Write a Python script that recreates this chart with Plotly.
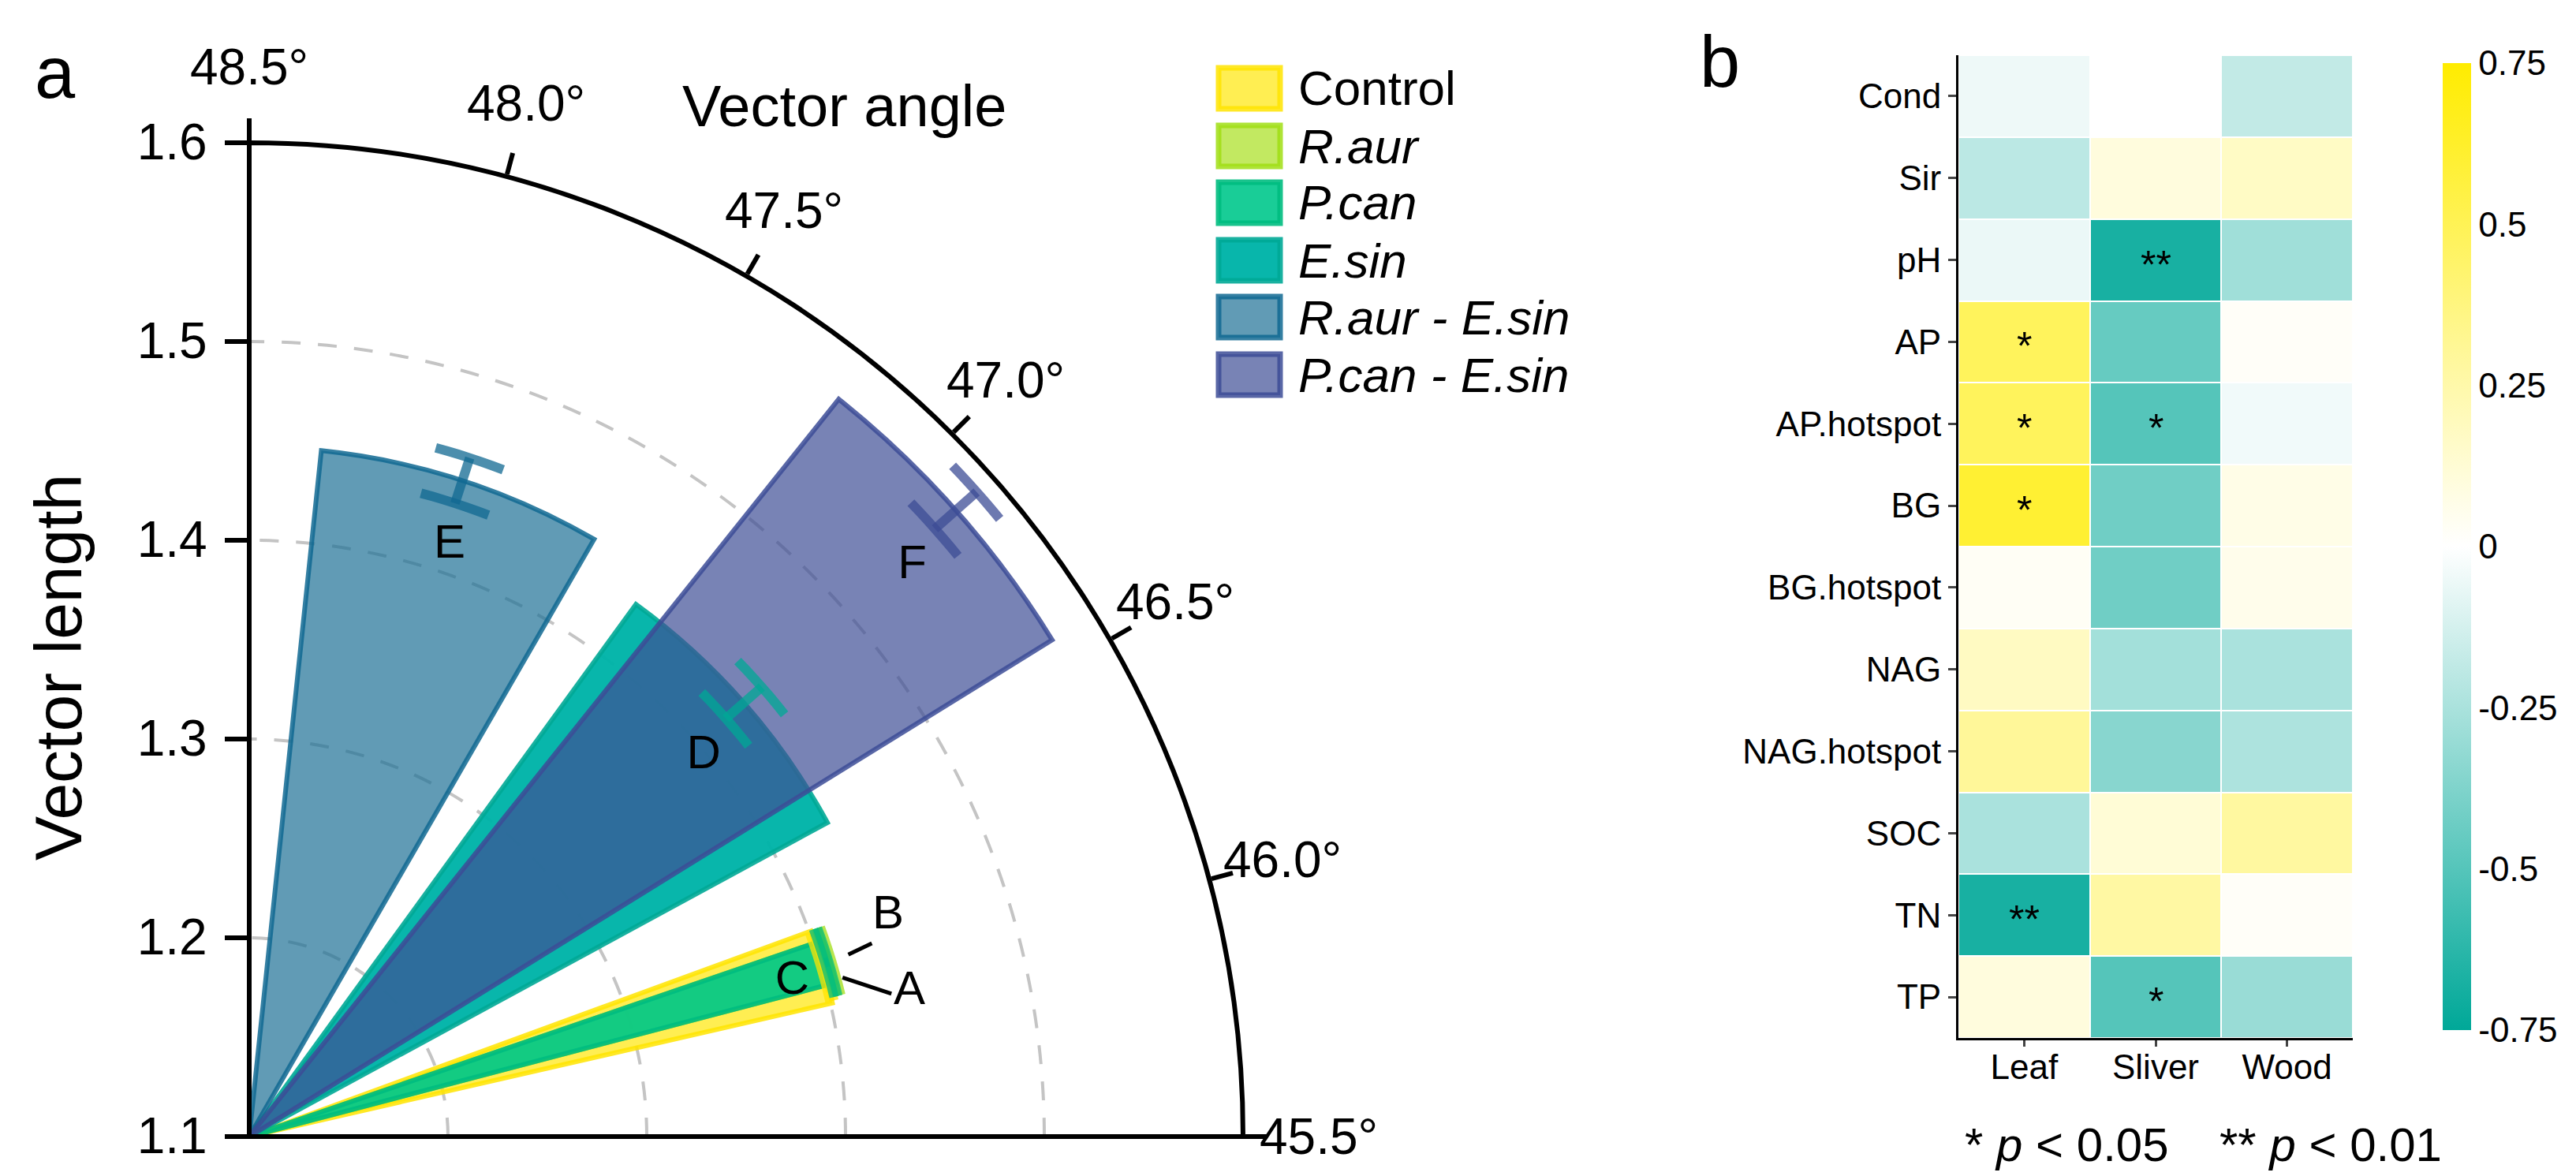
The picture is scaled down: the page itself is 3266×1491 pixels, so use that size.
import numpy as np
import plotly.graph_objects as go

# ---------------- data: panel a ----------------
groups = ["Control", "R.aur", "P.can", "E.sin", "R.aur - E.sin", "P.can - E.sin"]
letters = ["A", "B", "C", "D", "E", "F"]
vec_angle = [46.05, 46.06, 46.06, 46.875, 47.90, 46.885]      # degrees (centre)
angle_half = [0.12, 0.07, 0.07, 0.425, 0.40, 0.327]           # half angular width
vec_length = [1.401, 1.405, 1.4035, 1.431, 1.447, 1.575]
length_err = [0.001, 0.001, 0.001, 0.012, 0.012, 0.014]
fill_colors = ["rgba(255,230,0,0.68)", "rgba(168,224,30,0.70)", "rgba(0,200,140,0.90)",
               "rgba(0,180,168,0.97)", "rgba(30,112,150,0.70)", "rgba(62,78,150,0.70)"]
line_colors = ["rgba(255,228,0,0.85)", "rgba(160,222,20,0.85)", "rgba(0,188,128,0.9)",
               "rgba(0,168,150,0.9)", "rgba(16,104,146,0.85)", "rgba(60,76,150,0.85)"]

angle_ticks = [45.5, 46.0, 46.5, 47.0, 47.5, 48.0, 48.5]
length_ticks = [1.1, 1.2, 1.3, 1.4, 1.5, 1.6]

# letter label positions (angle, length)
label_angle = [45.911, 46.134, 46.03, 46.83, 47.876, 46.857]
label_length = [1.440, 1.440, 1.384, 1.398, 1.414, 1.540]
# leader lines for A and B: (angle0, len0, angle1, len1)
leader_A = [46.00, 1.409, 45.918, 1.431]
leader_B = [46.063, 1.415, 46.075, 1.428]

# ---------------- data: panel b ----------------
heat_rows = ["Cond", "Sir", "pH", "AP", "AP.hotspot", "BG", "BG.hotspot", "NAG",
             "NAG.hotspot", "SOC", "TN", "TP"]
heat_cols = ["Leaf", "Sliver", "Wood"]
heat_vals = [
    [-0.05, 0.00, -0.18],
    [-0.20, 0.10, 0.17],
    [-0.06, -0.68, -0.28],
    [0.48, -0.45, 0.02],
    [0.48, -0.50, -0.04],
    [0.60, -0.42, 0.07],
    [0.03, -0.42, 0.06],
    [0.18, -0.27, -0.25],
    [0.30, -0.35, -0.24],
    [-0.25, 0.12, 0.28],
    [-0.68, 0.27, 0.02],
    [0.10, -0.50, -0.30],
]
heat_sig = [
    ["", "", ""],
    ["", "", ""],
    ["", "**", ""],
    ["*", "", ""],
    ["*", "*", ""],
    ["*", "", ""],
    ["", "", ""],
    ["", "", ""],
    ["", "", ""],
    ["", "", ""],
    ["**", "", ""],
    ["", "*", ""],
]
cbar_ticks = [0.75, 0.5, 0.25, 0, -0.25, -0.5, -0.75]
cbar_text = ["0.75", "0.5", "0.25", "0", "-0.25", "-0.5", "-0.75"]

# ---------------- layout constants ----------------
W, H = 3266, 1491
FONT = "Liberation Sans"
ANG_MIN, ANG_MAX = angle_ticks[0], angle_ticks[-1]
R_MIN, R_MAX = length_ticks[0], length_ticks[-1]
SPAN = 90.0
k = SPAN / (ANG_MAX - ANG_MIN)


def vis(a):
    return (np.asarray(a, dtype=float) - ANG_MIN) * k


# polar area in pixels: centre (308, 1433), radius 1260
cx, cy, rad = 308, 1433, 1260
dom_x = [cx / W, (cx + rad) / W]
dom_y = [(H - cy) / H, (H - cy + rad) / H]
px_per_unit = rad / (R_MAX - R_MIN)
cap_half_px = 45
label_rad = 1356   # pixel radius of the angular tick-label centres

fig = go.Figure()

# wedges
for i, g in enumerate(groups):
    fig.add_trace(go.Barpolar(
        r=[vec_length[i]], theta=[float(vis(vec_angle[i]))],
        width=[2 * angle_half[i] * k],
        marker=dict(color=fill_colors[i], line=dict(color=line_colors[i], width=6)),
        name=g, showlegend=False, hoverinfo="skip"))

# error bars
for i, g in enumerate(groups):
    L, e = vec_length[i], length_err[i]
    th = float(vis(vec_angle[i]))
    rr, tt = [L - e, L + e, None], [th, th, None]
    for rc in (L - e, L + e):
        half = np.degrees((cap_half_px / px_per_unit) / (rc - R_MIN))
        ts = np.linspace(th - half, th + half, 7)
        rr += [rc] * len(ts) + [None]
        tt += list(ts) + [None]
    col = line_colors[i].replace("0.85", "0.75").replace("0.9)", "0.75)")
    fig.add_trace(go.Scatterpolar(r=rr, theta=tt, mode="lines",
                                  line=dict(color=col, width=12),
                                  showlegend=False, hoverinfo="skip"))

# baseline along 45.5°
fig.add_trace(go.Scatterpolar(r=[R_MIN, R_MAX], theta=[float(vis(ANG_MIN))] * 2, mode="lines",
                              line=dict(color="black", width=6), showlegend=False,
                              hoverinfo="skip"))

# leader lines
for ld in (leader_A, leader_B):
    fig.add_trace(go.Scatterpolar(r=[ld[1], ld[3]], theta=[float(vis(ld[0])), float(vis(ld[2]))],
                                  mode="lines", line=dict(color="black", width=5),
                                  showlegend=False, hoverinfo="skip"))

# letters
fig.add_trace(go.Scatterpolar(r=label_length, theta=list(vis(label_angle)), mode="text",
                              text=letters, textfont=dict(family=FONT, size=60, color="black"),
                              showlegend=False, hoverinfo="skip"))

# ---------------- heatmap ----------------
hx = [2475 / W, 2975 / W]
hy = [(H - 1308) / H, (H - 62) / H]
fig.add_trace(go.Heatmap(
    z=heat_vals, x=heat_cols, y=heat_rows, zmin=-0.75, zmax=0.75,
    colorscale=[[0, "#00A898"], [0.5, "#FFFFFF"], [1, "#FFEC00"]],
    xgap=2, ygap=2, xaxis="x", yaxis="y", hoverinfo="skip",
    colorbar=dict(x=3079 / W, xanchor="left", y=(hy[0] + hy[1]) / 2, yanchor="middle",
                  len=hy[1] - hy[0], lenmode="fraction", thickness=36, outlinewidth=0,
                  tickvals=cbar_ticks, ticktext=cbar_text, ticks="",
                  tickfont=dict(family=FONT, size=44, color="black"))))

annotations = []
for ri, row in enumerate(heat_rows):
    for ci, col in enumerate(heat_cols):
        if heat_sig[ri][ci]:
            annotations.append(dict(x=col, y=row, xref="x", yref="y", text=heat_sig[ri][ci],
                                    showarrow=False, yshift=-6,
                                    font=dict(family=FONT, size=50, color="black")))

# angular tick labels, centred on each tick direction
for a in angle_ticks:
    t = np.radians(float(vis(a)))
    annotations.append(dict(x=(cx + label_rad * np.cos(t)) / W,
                            y=(H - cy + label_rad * np.sin(t)) / H,
                            xref="paper", yref="paper", text=f"{a:.1f}°", showarrow=False,
                            xanchor="center", yanchor="middle",
                            font=dict(family=FONT, size=64, color="black")))

# legend (manual)
leg_x0, leg_x1 = 1537, 1615
leg_y = [104, 177, 249, 322, 394, 467]
shapes = []
for i, g in enumerate(groups):
    y0 = leg_y[i] - 26
    y1 = leg_y[i] + 26
    shapes.append(dict(type="rect", xref="paper", yref="paper",
                       x0=leg_x0 / W, x1=leg_x1 / W, y0=(H - y1) / H, y1=(H - y0) / H,
                       fillcolor=fill_colors[i], line=dict(color=line_colors[i], width=7)))
    txt = g if g == "Control" else "<i>" + g + "</i>"
    annotations.append(dict(x=1636 / W, y=(H - leg_y[i]) / H, xref="paper", yref="paper",
                            xanchor="left", yanchor="middle", text=txt, showarrow=False,
                            font=dict(family=FONT, size=62, color="black")))

annotations += [
    dict(x=62 / W, y=(H - 84) / H, xref="paper", yref="paper", text="a", showarrow=False,
         xanchor="center", yanchor="middle", font=dict(family=FONT, size=92, color="black")),
    dict(x=2172 / W, y=(H - 70) / H, xref="paper", yref="paper", text="b", showarrow=False,
         xanchor="center", yanchor="middle", font=dict(family=FONT, size=92, color="black")),
    dict(x=1062 / W, y=(H - 126) / H, xref="paper", yref="paper", text="Vector angle",
         showarrow=False, xanchor="center", yanchor="middle",
         font=dict(family=FONT, size=74, color="black")),
    dict(x=66 / W, y=(H - 838) / H, xref="paper", yref="paper", text="Vector length",
         showarrow=False, textangle=-90, xanchor="center", yanchor="middle",
         font=dict(family=FONT, size=84, color="black")),
    dict(x=2612 / W, y=(H - 1443) / H, xref="paper", yref="paper",
         text="* <i>p</i> < 0.05", showarrow=False, xanchor="center", yanchor="middle",
         font=dict(family=FONT, size=60, color="black")),
    dict(x=2947 / W, y=(H - 1443) / H, xref="paper", yref="paper",
         text="** <i>p</i> < 0.01", showarrow=False, xanchor="center", yanchor="middle",
         font=dict(family=FONT, size=60, color="black")),
]

fig.update_layout(
    width=W, height=H, margin=dict(l=0, r=0, t=0, b=0),
    paper_bgcolor="white", plot_bgcolor="white", showlegend=False,
    font=dict(family=FONT, color="black"),
    polar=dict(
        domain=dict(x=dom_x, y=dom_y), sector=[0, 90], bgcolor="white", barmode="overlay",
        radialaxis=dict(range=[R_MIN, R_MAX], angle=90, side="counterclockwise",
                        tickvals=length_ticks, ticktext=[f"{v:.1f}" for v in length_ticks],
                        ticks="outside", ticklen=28, tickwidth=6, tickcolor="black",
                        showline=True, linecolor="black", linewidth=6, tickangle=90,
                        showgrid=True, gridcolor="#c4c4c4", gridwidth=4,
                        griddash="24px,22px",
                        tickfont=dict(family=FONT, size=64, color="black")),
        angularaxis=dict(direction="counterclockwise", rotation=0,
                         tickvals=list(vis(angle_ticks)),
                         ticktext=[f"{v:.1f}°" for v in angle_ticks], showticklabels=False,
                         ticks="outside", ticklen=28, tickwidth=6, tickcolor="black",
                         showline=True, linecolor="black", linewidth=6, showgrid=False,
                         tickfont=dict(family=FONT, size=64, color="black")),
    ),
    xaxis=dict(domain=hx, showline=True, linecolor="black", linewidth=3, ticks="outside",
               ticklen=8, tickwidth=3, showgrid=False, zeroline=False, anchor="y",
               ticklabelstandoff=-12,
               tickfont=dict(family=FONT, size=44, color="black")),
    yaxis=dict(domain=hy, showline=True, linecolor="black", linewidth=3, ticks="outside",
               ticklen=10, tickwidth=3, showgrid=False, zeroline=False, anchor="x",
               autorange="reversed", tickfont=dict(family=FONT, size=44, color="black")),
    annotations=annotations, shapes=shapes,
)

fig.write_html("out.html")
